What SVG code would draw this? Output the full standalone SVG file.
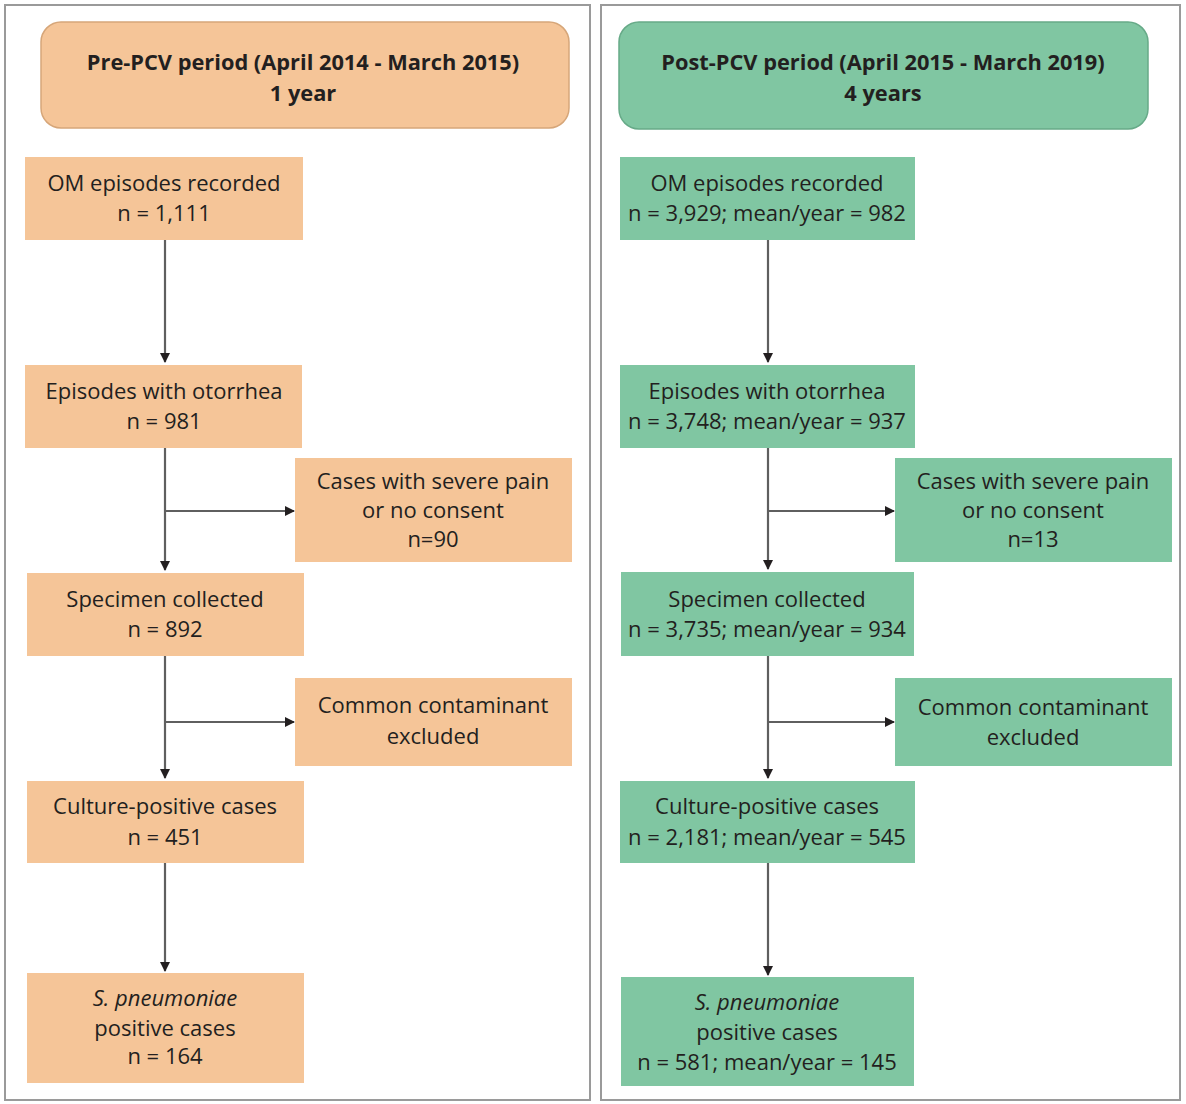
<svg xmlns="http://www.w3.org/2000/svg" width="1186" height="1104" viewBox="0 0 1186 1104">
<defs>
<style>
.panel{fill:#fff;stroke:#9a9a9a;stroke-width:2}
.or{fill:#F5C598}
.gr{fill:#80C6A2}
.hor{fill:#F5C598;stroke:#D6A679;stroke-width:1.5}
.hgr{fill:#80C6A2;stroke:#67AA88;stroke-width:1.5}
text{font-family:"Open Sans","Noto Sans","Liberation Sans",sans-serif;font-size:22px;fill:#231f20;text-anchor:middle}
.b{font-weight:bold;font-size:21.8px}
.i{font-style:italic}
.ln{stroke:#5f5f5f;stroke-width:2.2;fill:none}
</style>
<marker id="ah" viewBox="0 0 10 10" refX="9" refY="5" markerWidth="11" markerHeight="10" orient="auto" markerUnits="userSpaceOnUse">
<path d="M0,0 L10,5 L0,10 z" fill="#231f20"/>
</marker>
</defs>
<rect x="0" y="0" width="1186" height="1104" fill="#fff"/>
<rect class="panel" x="5" y="5" width="585" height="1095"/>
<rect class="panel" x="601" y="5" width="579" height="1095"/>

<g id="connectors">
<line class="ln" x1="165" y1="240" x2="165" y2="362" marker-end="url(#ah)"/>
<line class="ln" x1="165" y1="448" x2="165" y2="570" marker-end="url(#ah)"/>
<line class="ln" x1="165" y1="511" x2="294" y2="511" marker-end="url(#ah)"/>
<line class="ln" x1="165" y1="656" x2="165" y2="778" marker-end="url(#ah)"/>
<line class="ln" x1="165" y1="722" x2="294" y2="722" marker-end="url(#ah)"/>
<line class="ln" x1="165" y1="863" x2="165" y2="971" marker-end="url(#ah)"/>
<line class="ln" x1="768" y1="240" x2="768" y2="362" marker-end="url(#ah)"/>
<line class="ln" x1="768" y1="448" x2="768" y2="569" marker-end="url(#ah)"/>
<line class="ln" x1="768" y1="511" x2="894" y2="511" marker-end="url(#ah)"/>
<line class="ln" x1="768" y1="656" x2="768" y2="778" marker-end="url(#ah)"/>
<line class="ln" x1="768" y1="722" x2="894" y2="722" marker-end="url(#ah)"/>
<line class="ln" x1="768" y1="863" x2="768" y2="975" marker-end="url(#ah)"/>
</g>

<g id="pre-header">
<rect class="hor" x="41" y="22" width="528" height="106" rx="20"/>
<text class="b" x="303" y="70">Pre-PCV period (April 2014 - March 2015)</text>
<text class="b" x="303" y="101">1 year</text>
</g>
<g id="pre-om">
<rect class="or" x="25" y="157" width="278" height="83"/>
<text x="164" y="191">OM episodes recorded</text>
<text x="164" y="221">n = 1,111</text>
</g>
<g id="pre-otorrhea">
<rect class="or" x="25" y="365" width="277" height="83"/>
<text x="164" y="399">Episodes with otorrhea</text>
<text x="164" y="429">n = 981</text>
</g>
<g id="pre-pain">
<rect class="or" x="295" y="458" width="277" height="104"/>
<text x="433" y="489">Cases with severe pain</text>
<text x="433" y="518">or no consent</text>
<text x="433" y="547">n=90</text>
</g>
<g id="pre-specimen">
<rect class="or" x="27" y="573" width="277" height="83"/>
<text x="165" y="607">Specimen collected</text>
<text x="165" y="637">n = 892</text>
</g>
<g id="pre-contaminant">
<rect class="or" x="295" y="678" width="277" height="88"/>
<text x="433" y="713">Common contaminant</text>
<text x="433" y="744">excluded</text>
</g>
<g id="pre-culture">
<rect class="or" x="27" y="781" width="277" height="82"/>
<text x="165" y="814">Culture-positive cases</text>
<text x="165" y="845">n = 451</text>
</g>
<g id="pre-spn">
<rect class="or" x="27" y="973" width="277" height="110"/>
<text class="i" x="165" y="1006">S. pneumoniae</text>
<text x="165" y="1036">positive cases</text>
<text x="165" y="1064">n = 164</text>
</g>

<g id="post-header">
<rect class="hgr" x="619" y="22" width="529" height="107" rx="20"/>
<text class="b" x="883" y="70">Post-PCV period (April 2015 - March 2019)</text>
<text class="b" x="883" y="101">4 years</text>
</g>
<g id="post-om">
<rect class="gr" x="620" y="157" width="295" height="83"/>
<text x="767" y="191">OM episodes recorded</text>
<text x="767" y="221">n = 3,929; mean/year = 982</text>
</g>
<g id="post-otorrhea">
<rect class="gr" x="620" y="365" width="295" height="83"/>
<text x="767" y="399">Episodes with otorrhea</text>
<text x="767" y="429">n = 3,748; mean/year = 937</text>
</g>
<g id="post-pain">
<rect class="gr" x="895" y="458" width="277" height="104"/>
<text x="1033" y="489">Cases with severe pain</text>
<text x="1033" y="518">or no consent</text>
<text x="1033" y="547">n=13</text>
</g>
<g id="post-specimen">
<rect class="gr" x="621" y="572" width="293" height="84"/>
<text x="767" y="607">Specimen collected</text>
<text x="767" y="637">n = 3,735; mean/year = 934</text>
</g>
<g id="post-contaminant">
<rect class="gr" x="895" y="678" width="277" height="88"/>
<text x="1033" y="715">Common contaminant</text>
<text x="1033" y="745">excluded</text>
</g>
<g id="post-culture">
<rect class="gr" x="620" y="781" width="295" height="82"/>
<text x="767" y="814">Culture-positive cases</text>
<text x="767" y="845">n = 2,181; mean/year = 545</text>
</g>
<g id="post-spn">
<rect class="gr" x="621" y="977" width="293" height="109"/>
<text class="i" x="767" y="1010">S. pneumoniae</text>
<text x="767" y="1040">positive cases</text>
<text x="767" y="1070">n = 581; mean/year = 145</text>
</g>
</svg>
